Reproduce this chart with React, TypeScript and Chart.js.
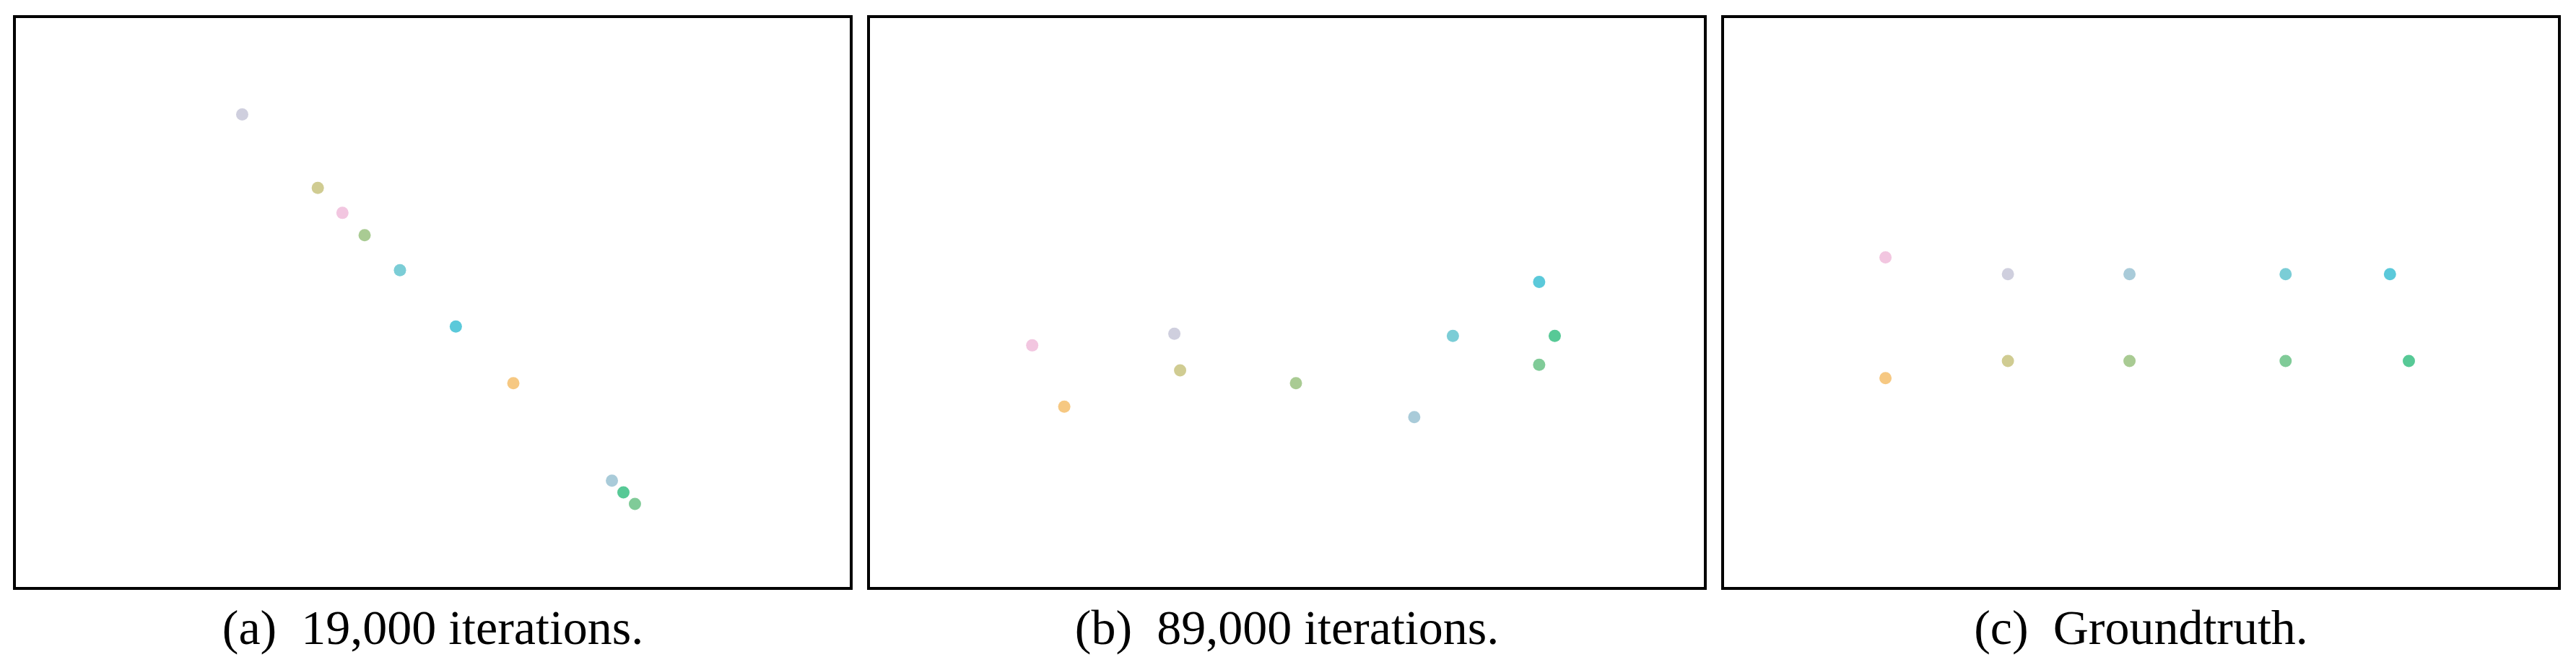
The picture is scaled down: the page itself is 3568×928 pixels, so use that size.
import React, { useEffect, useRef } from "react";
import { Chart, registerables } from "chart.js";

Chart.register(...registerables);

// Ten classes, each with its own colour (same order in every panel)
const categories = [
  "pink",
  "orange",
  "lavender",
  "khaki",
  "lightblue",
  "sage",
  "cyanish",
  "green1",
  "cyan",
  "green2",
];
const categoryColors = [
  "#f2c6e0",
  "#f6c882",
  "#cfcfde",
  "#d0cc92",
  "#a9cbd9",
  "#a9cb93",
  "#7bcdd6",
  "#80cb98",
  "#5bc9da",
  "#57c996",
];

// Panel (a): 19,000 iterations
const iter19kX = [39.0, 59.8, 26.8, 36.0, 71.8, 41.7, 46.0, 74.6, 52.8, 73.2];
const iter19kY = [66.1, 35.5, 83.8, 70.6, 18.0, 62.1, 55.8, 13.8, 45.7, 15.9];

// Panel (b): 89,000 iterations
const iter89kX = [19.0, 22.9, 36.3, 37.0, 65.5, 51.1, 70.2, 80.7, 80.7, 82.6];
const iter89kY = [42.3, 31.3, 44.4, 37.8, 29.4, 35.5, 44.0, 38.8, 53.7, 44.0];

// Panel (c): groundtruth
const truthX = [18.9, 18.9, 33.8, 33.8, 48.6, 48.6, 67.6, 67.6, 80.3, 82.6];
const truthY = [58.1, 36.4, 55.1, 39.5, 55.1, 39.5, 55.1, 39.5, 55.1, 39.5];

const captions = ["(a)", "(b)", "(c)"];
const captionTexts = ["19,000 iterations.", "89,000 iterations.", "Groundtruth."];

const AXIS_MIN = 0;
const AXIS_MAX = 100;

const PANEL_W = 1163;
const PANEL_H = 796;
const BORDER = 4;
const INNER_W = PANEL_W - 2 * BORDER;
const INNER_H = PANEL_H - 2 * BORDER;

function ScatterPanel({ xs, ys }: { xs: number[]; ys: number[] }) {
  const ref = useRef<HTMLCanvasElement | null>(null);
  useEffect(() => {
    if (!ref.current) return;
    const data = categories.map((_, i) => ({ x: xs[i], y: ys[i] }));
    const chart = new Chart(ref.current, {
      type: "scatter",
      data: {
        datasets: [
          {
            label: "points",
            data,
            backgroundColor: categoryColors,
            borderWidth: 0,
            pointRadius: 8.5,
            pointHoverRadius: 8.5,
          },
        ],
      },
      options: {
        animation: false,
        responsive: false,
        maintainAspectRatio: false,
        devicePixelRatio: 1,
        events: [],
        layout: { padding: 0 },
        plugins: {
          legend: { display: false },
          tooltip: { enabled: false },
          title: { display: false },
        },
        scales: {
          x: { type: "linear", min: AXIS_MIN, max: AXIS_MAX, display: false },
          y: { type: "linear", min: AXIS_MIN, max: AXIS_MAX, display: false },
        },
      },
    });
    return () => chart.destroy();
  }, [xs, ys]);
  return (
    <canvas
      ref={ref}
      width={INNER_W}
      height={INNER_H}
      style={{ display: "block", width: INNER_W, height: INNER_H }}
    />
  );
}

const panels = [
  { xs: iter19kX, ys: iter19kY, left: 18 },
  { xs: iter89kX, ys: iter89kY, left: 1201 },
  { xs: truthX, ys: truthY, left: 2384 },
];

export default function App() {
  return (
    <div
      style={{
        position: "absolute",
        left: 0,
        top: 0,
        width: 3568,
        height: 928,
        background: "#ffffff",
        overflow: "hidden",
      }}
    >
      {panels.map((p, i) => (
        <React.Fragment key={i}>
          <div
            style={{
              position: "absolute",
              left: p.left,
              top: 21,
              width: PANEL_W,
              height: PANEL_H,
              boxSizing: "border-box",
              border: `${BORDER}px solid #000`,
              background: "#fff",
            }}
          >
            <ScatterPanel xs={p.xs} ys={p.ys} />
          </div>
          <div
            style={{
              position: "absolute",
              left: p.left,
              top: 835,
              width: PANEL_W,
              textAlign: "center",
              fontFamily: '"Liberation Serif", "DejaVu Serif", serif',
              fontSize: 68,
              lineHeight: "68px",
              color: "#000",
              whiteSpace: "nowrap",
            }}
          >
            <span>{captions[i]}</span>
            <span style={{ marginLeft: 34 }}>{captionTexts[i]}</span>
          </div>
        </React.Fragment>
      ))}
    </div>
  );
}
